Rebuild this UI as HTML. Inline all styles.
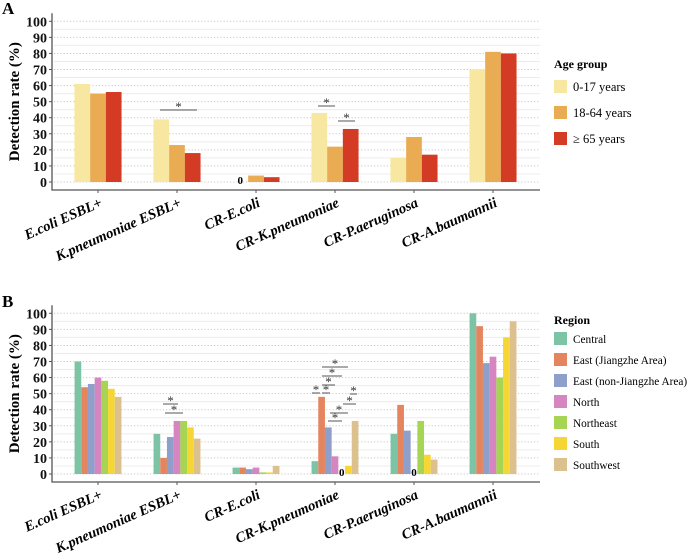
<!DOCTYPE html>
<html><head><meta charset="utf-8"><style>
body{margin:0;background:#fff}
svg{display:block;font-family:"Liberation Serif",serif}
</style></head><body>
<svg id="chart" width="689" height="557"></svg>
<script>
const categories=["E.coli ESBL+","K.pneumoniae ESBL+","CR-E.coli","CR-K.pneumoniae","CR-P.aeruginosa","CR-A.baumannii"];
const ageGroups=["0-17 years","18-64 years","≥ 65 years"];
const ageColors=["#f8e7a0","#e9ac52","#d43b24"];
const ageValues=[[61,55,56],[39,23,18],[0,4,3],[43,22,33],[15,28,17],[70,81,80]];
const regions=["Central","East (Jiangzhe Area)","East (non-Jiangzhe Area)","North","Northeast","South","Southwest"];
const regionColors=["#7dc3a5","#e4855f","#8f9fcb","#d585c0","#a6d553","#f6d634","#dcc08d"];
const regionValues=[[70,54,56,60,58,53,48],[25,10,23,33,33,29,22],[4,4,3,4,1,1,5],[8,48,29,11,0,5,33],[25,43,27,0,33,12,9],[100,92,69,73,60,85,95]];
const yTicks=[0,10,20,30,40,50,60,70,80,90,100];
const NS="http://www.w3.org/2000/svg";
const svg=document.getElementById('chart');
function mk(t,a,p){const e=document.createElementNS(NS,t);for(const k in a)e.setAttribute(k,a[k]);(p||svg).appendChild(e);return e;}
function panel(opt){
  const g=mk('g',{});
  
  
  const x0=52,x1=540,yb=opt.y0;
  const y=v=>yb-v*1.607;
  const xc=i=>98+i*79;
  for(let v=0;v<=100;v+=5){
    const l=mk('line',{x1:x0+2,x2:x1,y1:y(v),y2:y(v),stroke:v%10==0?'#c8c8c8':'#ececec','stroke-dasharray':v%10==0?'1.2,2':'',"stroke-width":1},g);
    
    
  }
  const ax=mk('path',{d:`M${x0} ${y(105)}V${yb+8}H${x1}`,stroke:'#555',fill:'none','stroke-width':1.3},g);
  
  
  yTicks.forEach(v=>{
    mk('line',{x1:x0-3,x2:x0,y1:y(v),y2:y(v),stroke:'#555'},g);
    const t=mk('text',{x:x0-5,y:y(v)+5,'text-anchor':'end','font-size':14,'font-weight':'bold',fill:'#111'},g);
    t.textContent=v;
    
    
  });
  const yt=mk('text',{transform:`translate(19,${(y(0)+y(100))/2}) rotate(-90)`,'text-anchor':'middle','font-size':15,'font-weight':'bold'},g);
  yt.textContent='Detection rate (%)';
  
  
  const n=opt.values[0].length,bw=opt.bw;
  categories.forEach((c,i)=>{
    mk('line',{x1:xc(i),x2:xc(i),y1:yb+8,y2:yb+11,stroke:'#555'},g);
    const t=mk('text',{transform:`translate(${xc(i)+5},${yb+24}) rotate(-24)`,'text-anchor':'end','font-size':14.5,'font-weight':'bold','font-style':'italic'},g);
    t.textContent=c;
    
    
    opt.values[i].forEach((v,j)=>{
      const bx=xc(i)-n*bw/2+j*bw;
      if(v===0){
        const z=mk('text',{x:bx+bw/2,y:yb+2,'text-anchor':'middle','font-size':11,'font-weight':'bold'},g);
        z.textContent='0';
        
        
        return;
      }
      const r=mk('rect',{x:bx,y:y(v),width:bw,height:v*1.607,fill:opt.colors[j]},g);
      
      
    });
  });
  opt.sig.forEach(s=>{
    const l=mk('line',{x1:s[0],x2:s[1],y1:s[2],y2:s[2],stroke:'#555'},g);
    
    
    const t=mk('text',{x:(s[0]+s[1])/2,y:s[2]+1,'text-anchor':'middle','font-size':13,fill:'#333'},g);
    t.textContent='*';
    
    
  });
  const lab=mk('text',{x:2,y:opt.labY,'font-size':17,'font-weight':'bold'},g);
  lab.textContent=opt.label;
  
  
  const lt=mk('text',{x:554,y:opt.legY,'font-size':12,'font-weight':'bold'},g);
  lt.textContent=opt.legTitle;
  
  
  opt.keys.forEach((k,j)=>{
    const yy=opt.legY+opt.legStart+j*opt.legStep;
    const r=mk('rect',{x:554,y:yy,width:opt.sw,height:opt.sw,fill:opt.colors[j]},g);
    
    
    const t=mk('text',{x:554+opt.sw+6,y:yy+opt.sw/2+4.5,'font-size':opt.lf},g);
    t.textContent=k;
    
    
  });
}
panel({name:'panel-a-age',y0:182,bw:15.7,values:ageValues,colors:ageColors,keys:ageGroups,label:'A',labY:14,legTitle:'Age group',legY:68,legStart:12,legStep:26,sw:13,lf:12.5,
  sig:[[160,197,110],[318,335,106],[338,355,121]]});
panel({name:'panel-b-region',y0:474,bw:6.7,values:regionValues,colors:regionColors,keys:regions,label:'B',labY:307,legTitle:'Region',legY:324,legStart:8,legStep:21,sw:13,lf:11.3,
  sig:[[163,178,404],[165,183,413],[312,320,393],[322,330,393],[322,348,367],[322,342,376],[322,335,385],[330,348,413],[328,342,421],[350,357,394],[343,356,404]]});
</script>
</body></html>
